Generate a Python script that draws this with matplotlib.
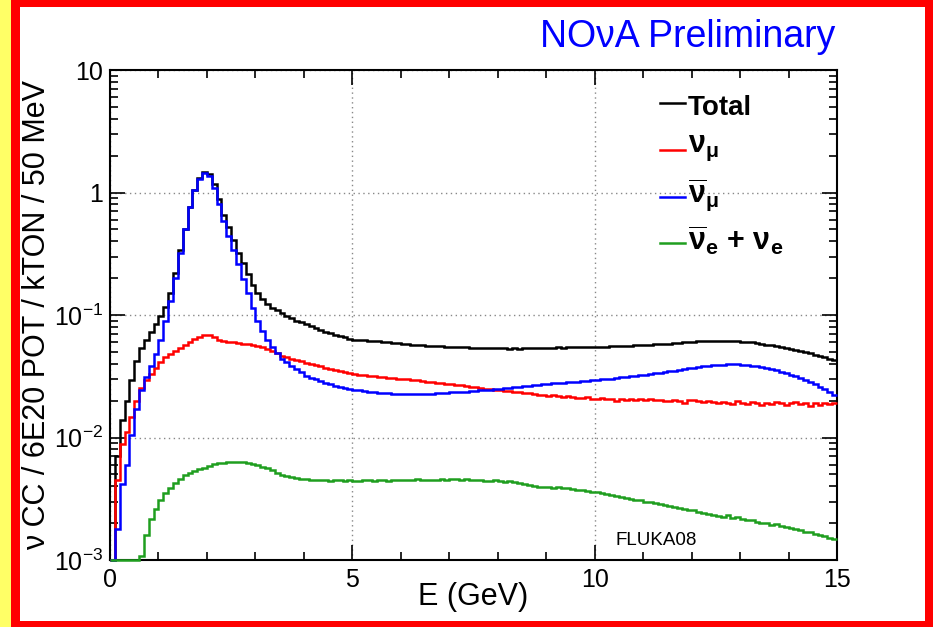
import numpy as np
import matplotlib
matplotlib.use("Agg")
import matplotlib.pyplot as plt
from matplotlib.patches import Rectangle
from matplotlib.lines import Line2D
from matplotlib.ticker import MultipleLocator, FixedLocator, FixedFormatter, LogLocator, NullFormatter

plt.rcParams['font.family'] = ['Liberation Sans', 'DejaVu Sans']
plt.rcParams['mathtext.fontset'] = 'custom'
plt.rcParams['mathtext.rm'] = 'Liberation Sans'
plt.rcParams['mathtext.it'] = 'Liberation Sans:italic'
plt.rcParams['mathtext.bf'] = 'Liberation Sans:bold'
plt.rcParams['mathtext.default'] = 'regular'

# ---------------- data (events per 0.1 GeV bin) -------------
E_MIN, E_MAX, BIN_WIDTH = 0.0, 15.0, 0.1

total = [
    0.001, 0.007, 0.014, 0.020, 0.0295, 0.042, 0.054, 0.063, 0.072, 0.084,
    0.099, 0.117, 0.152, 0.22, 0.34, 0.50, 0.76, 1.05, 1.32, 1.47,
    1.42, 1.18, 0.88, 0.66, 0.52, 0.41, 0.32, 0.265, 0.215, 0.175,
    0.150, 0.134, 0.123, 0.115, 0.109, 0.103, 0.098, 0.094, 0.090, 0.087,
    0.084, 0.081, 0.078, 0.075, 0.073, 0.071, 0.069, 0.067, 0.066, 0.064,
    0.063, 0.0625, 0.062, 0.0618, 0.0612, 0.061, 0.0605, 0.060, 0.0592, 0.0588,
    0.058, 0.0575, 0.057, 0.057, 0.0565, 0.056, 0.056, 0.0555, 0.0555, 0.055,
    0.055, 0.055, 0.0548, 0.0545, 0.054, 0.054, 0.054, 0.0535, 0.0535, 0.0535,
    0.0535, 0.0538, 0.0532, 0.0535, 0.0530, 0.0536, 0.0540, 0.0534, 0.0538, 0.0535,
    0.0540, 0.0538, 0.0545, 0.0542, 0.0545, 0.0548, 0.0546, 0.0550, 0.0548, 0.0550,
    0.0550, 0.0552, 0.0553, 0.0556, 0.0555, 0.0558, 0.0560, 0.0562, 0.0565, 0.0567,
    0.0570, 0.0572, 0.0576, 0.0578, 0.0582, 0.0585, 0.0590, 0.0593, 0.0598, 0.0602,
    0.0605, 0.0610, 0.0608, 0.0612, 0.0614, 0.0612, 0.0615, 0.0610, 0.0612, 0.0608,
    0.0605, 0.0602, 0.0598, 0.0590, 0.0582, 0.0572, 0.0565, 0.0555, 0.0545, 0.0538,
    0.0528, 0.0518, 0.0505, 0.0495, 0.0485, 0.0475, 0.0462, 0.0452, 0.0440, 0.0428,
]

numu = [
    0.001, 0.0045, 0.0088, 0.0110, 0.0148, 0.0200, 0.0255, 0.0295, 0.0330, 0.0370,
    0.0410, 0.0450, 0.0480, 0.0510, 0.0540, 0.0570, 0.0600, 0.0635, 0.0665, 0.0692,
    0.0690, 0.0660, 0.0625, 0.0615, 0.0605, 0.0600, 0.0595, 0.0585, 0.0578, 0.0570,
    0.0560, 0.0545, 0.0525, 0.0505, 0.0485, 0.0465, 0.0452, 0.0440, 0.0430, 0.0420,
    0.0405, 0.0397, 0.0388, 0.0380, 0.0372, 0.0364, 0.0356, 0.0349, 0.0342, 0.0335,
    0.0330, 0.0326, 0.0322, 0.0318, 0.0315, 0.0312, 0.0309, 0.0306, 0.0304, 0.0302,
    0.0300, 0.0298, 0.0294, 0.0292, 0.0290, 0.0286, 0.0284, 0.0280, 0.0278, 0.0275,
    0.0272, 0.0270, 0.0266, 0.0262, 0.0260, 0.0256, 0.0253, 0.0250, 0.0247, 0.0245,
    0.0243, 0.0240, 0.0238, 0.0236, 0.0234, 0.0232, 0.0230, 0.0226, 0.0223, 0.0222,
    0.0220, 0.0223, 0.0218, 0.0215, 0.0219, 0.0214, 0.0212, 0.0210, 0.0213, 0.0208,
    0.0207, 0.0210, 0.0205, 0.0208, 0.0198, 0.0206, 0.0204, 0.0207, 0.0203, 0.0205,
    0.0202, 0.0206, 0.0201, 0.0203, 0.0200, 0.0198, 0.0204, 0.0199, 0.0192, 0.0201,
    0.0203, 0.0198, 0.0196, 0.0200, 0.0194, 0.0190, 0.0196, 0.0192, 0.0188, 0.0197,
    0.0193, 0.0186, 0.0194, 0.0190, 0.0185, 0.0192, 0.0187, 0.0195, 0.0191, 0.0184,
    0.0190, 0.0196, 0.0186, 0.0193, 0.0182, 0.0190, 0.0185, 0.0192, 0.0186, 0.0190,
]

numubar = [
    0.001, 0.0018, 0.0042, 0.0060, 0.0105, 0.0170, 0.0245, 0.0310, 0.0385, 0.0480,
    0.062, 0.090, 0.130, 0.200, 0.320, 0.50, 0.76, 1.05, 1.30, 1.43,
    1.36, 1.08, 0.80, 0.58, 0.44, 0.34, 0.26, 0.195, 0.150, 0.115,
    0.090, 0.074, 0.063, 0.055, 0.049, 0.044, 0.041, 0.038, 0.036, 0.034,
    0.0320, 0.0308, 0.0298, 0.0288, 0.0280, 0.0272, 0.0265, 0.0260, 0.0255, 0.0250,
    0.0246, 0.0243, 0.0240, 0.0237, 0.0234, 0.0232, 0.0230, 0.0229, 0.0228, 0.0227,
    0.0226, 0.0225, 0.0225, 0.0226, 0.0226, 0.0227, 0.0228, 0.0229, 0.0230, 0.0231,
    0.0233, 0.0234, 0.0236, 0.0237, 0.0239, 0.0241, 0.0243, 0.0244, 0.0246, 0.0248,
    0.0250, 0.0252, 0.0254, 0.0256, 0.0259, 0.0262, 0.0264, 0.0267, 0.0269, 0.0271,
    0.0274, 0.0276, 0.0278, 0.0280, 0.0282, 0.0284, 0.0286, 0.0288, 0.0290, 0.0293,
    0.0295, 0.0298, 0.0300, 0.0303, 0.0306, 0.0309, 0.0312, 0.0315, 0.0318, 0.0322,
    0.0326, 0.0330, 0.0334, 0.0338, 0.0342, 0.0346, 0.0351, 0.0356, 0.0361, 0.0366,
    0.0371, 0.0376, 0.0381, 0.0385, 0.0389, 0.0392, 0.0394, 0.0396, 0.0397, 0.0396,
    0.0394, 0.0391, 0.0387, 0.0382, 0.0376, 0.0369, 0.0361, 0.0353, 0.0344, 0.0335,
    0.0325, 0.0315, 0.0304, 0.0293, 0.0282, 0.0271, 0.0259, 0.0247, 0.0235, 0.0223,
]

nue = [
    0.001, 0.001, 0.001, 0.001, 0.001, 0.001, 0.00108, 0.00160, 0.00215, 0.00260,
    0.00310, 0.00355, 0.00390, 0.00425, 0.00460, 0.00490, 0.00515, 0.00535, 0.00552, 0.00568,
    0.00590, 0.00605, 0.00615, 0.00622, 0.00628, 0.00630, 0.00632, 0.00628, 0.00620, 0.00610,
    0.00595, 0.00578, 0.00560, 0.00545, 0.00510, 0.00495, 0.00488, 0.00478, 0.00470, 0.00462,
    0.00456, 0.00452, 0.00448, 0.00450, 0.00448, 0.00445, 0.00450, 0.00446, 0.00443, 0.00447,
    0.00445, 0.00442, 0.00446, 0.00448, 0.00444, 0.00446, 0.00449, 0.00443, 0.00447, 0.00450,
    0.00452, 0.00448, 0.00451, 0.00455, 0.00450, 0.00453, 0.00448, 0.00452, 0.00458, 0.00452,
    0.00455, 0.00460, 0.00452, 0.00456, 0.00450, 0.00447, 0.00452, 0.00445, 0.00440, 0.00446,
    0.00440, 0.00436, 0.00440, 0.00432, 0.00428, 0.00420, 0.00412, 0.00405, 0.00398, 0.00392,
    0.00395, 0.00388, 0.00392, 0.00384, 0.00386, 0.00378, 0.00372, 0.00375, 0.00366, 0.00362,
    0.00358, 0.00350, 0.00345, 0.00338, 0.00332, 0.00326, 0.00322, 0.00315, 0.00310, 0.00306,
    0.00300, 0.00296, 0.00290, 0.00285, 0.00282, 0.00275, 0.00272, 0.00268, 0.00262, 0.00258,
    0.00254, 0.00248, 0.00244, 0.00238, 0.00234, 0.00230, 0.00226, 0.00232, 0.00222, 0.00226,
    0.00218, 0.00212, 0.00214, 0.00206, 0.00202, 0.00200, 0.00194, 0.00196, 0.00188, 0.00185,
    0.00182, 0.00178, 0.00176, 0.00170, 0.00168, 0.00163, 0.00160, 0.00157, 0.00152, 0.00148,
]

x_ticks = [0, 5, 10, 15]
x_tick_labels = ['0', '5', '10', '15']
y_ticks = [1e-3, 1e-2, 1e-1, 1, 10]
y_tick_labels = ['10$^{-3}$', '10$^{-2}$', '10$^{-1}$', '1', '10']

series = [
    (total, 'black', r'Total'),
    (numu, '#ff0000', r'$\mathbf{\nu_{\mu}}$'),
    (numubar, '#0000ff', r'$\mathbf{\overline{\nu}_{\mu}}$'),
    (nue, '#1f9e1f', r'$\mathbf{\overline{\nu}_{e}}$ + $\mathbf{\nu_{e}}$'),
]

# ---------------- figure ----------------
W, H = 933, 627
fig = plt.figure(figsize=(W / 100, H / 100), dpi=100)

def px_rect(x0, y0, x1, y1, color):
    fig.patches.append(Rectangle((x0 / W, 1 - y1 / H), (x1 - x0) / W, (y1 - y0) / H,
                                 transform=fig.transFigure, facecolor=color,
                                 edgecolor='none', zorder=-10))

px_rect(0, 0, 11, H, '#ffff66')
px_rect(11, 0, W, H, '#ff0000')
px_rect(20, 7, 925, 621, 'white')

ax_l, ax_r, ax_t, ax_b = 110, 837, 70, 560
ax = fig.add_axes([ax_l / W, 1 - ax_b / H, (ax_r - ax_l) / W, (ax_b - ax_t) / H])

edges = np.linspace(E_MIN, E_MAX, len(total) + 1)
for vals, col, lab in series:
    ax.stairs(vals, edges, color=col, lw=1.8, baseline=None, zorder=3, clip_on=False)

ax.set_yscale('log')
ax.set_xlim(E_MIN, E_MAX)
ax.set_ylim(1e-3, 10)

ax.xaxis.set_major_locator(FixedLocator(x_ticks))
ax.xaxis.set_major_formatter(FixedFormatter(x_tick_labels))
ax.xaxis.set_minor_locator(MultipleLocator(1))
ax.yaxis.set_major_locator(FixedLocator(y_ticks))
ax.yaxis.set_major_formatter(FixedFormatter(y_tick_labels))
ax.yaxis.set_minor_locator(LogLocator(base=10, subs=np.arange(2, 10)))
ax.yaxis.set_minor_formatter(NullFormatter())

ax.tick_params(which='both', direction='in', top=True, right=True, width=1.2)
ax.tick_params(which='major', length=11)
ax.tick_params(which='minor', length=6)
ax.tick_params(axis='x', which='major', labelsize=18, pad=6)
ax.tick_params(axis='y', which='major', labelsize=18, pad=5)
for s in ax.spines.values():
    s.set_linewidth(1.5)
    s.set_zorder(2)

ax.grid(True, which='major', linestyle=(0, (1, 2.5)), color='#888888', lw=1.0, zorder=1)

ax.set_xlabel('E (GeV)', fontsize=22)
ax.xaxis.set_label_coords(0.5, -0.045)
ax.set_ylabel('\u03bd CC / 6E20 POT / kTON / 50 MeV', fontsize=22)
ax.yaxis.set_label_coords(-0.08, 0.5)

fig.text(835 / W, 1 - 47 / H, 'NO\u03bdA Preliminary', color='#0000ff', fontsize=27,
         ha='right', va='baseline')

ax.text((656 - ax_l) / (ax_r - ax_l), (ax_b - 545) / (ax_b - ax_t), 'FLUKA08',
        fontsize=13.5, ha='center', va='baseline', transform=ax.transAxes)

# legend drawn manually (ROOT-like)
line_y = [103, 150, 197, 243]
text_y = [115, 152, 202, 250]
for (vals, col, lab), ly, ty in zip(series, line_y, text_y):
    fy = (ax_b - ly) / (ax_b - ax_t)
    ax.add_line(Line2D([(660 - ax_l) / (ax_r - ax_l), (685 - ax_l) / (ax_r - ax_l)], [fy, fy],
                       color=col, lw=1.8, transform=ax.transAxes, clip_on=False))
    ax.text((688 - ax_l) / (ax_r - ax_l), (ax_b - ty) / (ax_b - ax_t), lab,
            fontsize=20 if lab == 'Total' else 22,
            fontweight='bold', ha='left', va='baseline', transform=ax.transAxes)

fig.savefig('out.png', dpi=100)
